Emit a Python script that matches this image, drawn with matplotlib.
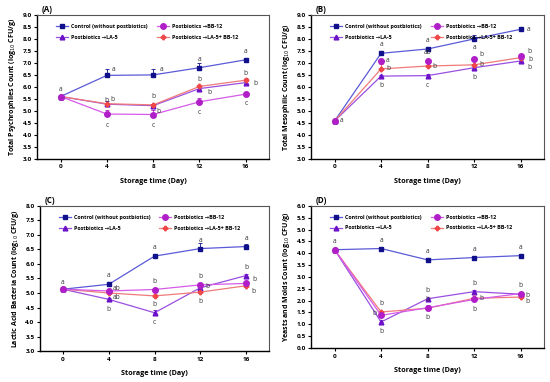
import matplotlib
matplotlib.use("Agg")
import matplotlib.pyplot as plt
import numpy as np

days = [0, 4, 8, 12, 16]
series_names = ["Control (without postbiotics)", "Postbiotics \u2192BB-12",
                "Postbiotics \u2192LA-5", "Postbiotics \u2192LA-5+ BB-12"]

# Panel A - psychrophiles
a_control = [5.60, 6.48, 6.50, 6.80, 7.13]
a_bb12 = [5.60, 4.87, 4.85, 5.38, 5.70]
a_la5 = [5.60, 5.28, 5.22, 5.93, 6.18]
a_mix = [5.60, 5.30, 5.25, 6.02, 6.28]
a_err = [[0.05, 0.25, 0.25, 0.20, 0.08], [0.05, 0.18, 0.20, 0.15, 0.08],
         [0.05, 0.15, 0.08, 0.10, 0.08], [0.05, 0.05, 0.05, 0.08, 0.08]]
a_letters = [["a", "a", "a", "a", "a"], ["", "c", "c", "c", "c"],
             ["", "b", "b", "b", "b"], ["", "b", "b", "b", "b"]]

# Panel B - mesophiles
b_control = [4.58, 7.40, 7.58, 8.00, 8.40]
b_bb12 = [4.58, 7.10, 7.08, 7.18, 7.30]
b_la5 = [4.58, 6.45, 6.47, 6.80, 7.08]
b_mix = [4.58, 6.75, 6.87, 6.92, 7.22]
b_err = [[0.05, 0.08, 0.05, 0.18, 0.05], [0.05, 0.05, 0.05, 0.05, 0.05],
         [0.05, 0.05, 0.08, 0.05, 0.05], [0.05, 0.20, 0.05, 0.05, 0.05]]
b_letters = [["a", "a", "a", "a", "a"], ["", "a", "ab", "b", "b"],
             ["", "b", "c", "b", "b"], ["", "b", "b", "b", "b"]]

# Panel C - lactic acid bacteria
c_control = [5.13, 5.30, 6.27, 6.53, 6.60]
c_bb12 = [5.13, 5.07, 5.12, 5.28, 5.33]
c_la5 = [5.13, 4.78, 4.32, 5.18, 5.60]
c_mix = [5.13, 5.00, 4.90, 5.03, 5.25]
c_err = [[0.08, 0.08, 0.05, 0.20, 0.10], [0.05, 0.05, 0.05, 0.05, 0.05],
         [0.05, 0.05, 0.10, 0.05, 0.05], [0.05, 0.05, 0.05, 0.05, 0.05]]
c_letters = [["a", "a", "a", "a", "a"], ["", "ab", "b", "b", "b"],
             ["", "b", "c", "b", "b"], ["", "ab", "b", "b", "b"]]

# Panel D - yeasts and molds
d_control = [4.15, 4.20, 3.72, 3.82, 3.90]
d_bb12 = [4.15, 1.38, 1.70, 2.05, 2.30]
d_la5 = [4.15, 1.10, 2.08, 2.38, 2.27]
d_mix = [4.15, 1.52, 1.68, 2.10, 2.15]
d_err = [[0.05, 0.05, 0.05, 0.05, 0.08], [0.05, 0.05, 0.10, 0.05, 0.05],
         [0.05, 0.10, 0.05, 0.08, 0.05], [0.05, 0.05, 0.05, 0.05, 0.05]]
d_letters = [["a", "a", "a", "a", "a"], ["", "b", "b", "b", "b"],
             ["", "b", "b", "b", "b"], ["", "b", "b", "b", "b"]]

ylabels = ["Total Psychrophiles Count (log$_{10}$ CFU/g)",
           "Total Mesophilic Count (log$_{10}$ CFU/g)",
           "Lactic Acid Bacteria Count (log$_{10}$ CFU/g)",
           "Yeasts and Molds Count (log$_{10}$ CFU/g)"]
panel_labels = ["(A)", "(B)", "(C)", "(D)"]

plt.rcParams['font.family'] = ['Open Sans', 'DejaVu Sans']

line_colors = ["#5a5ad8", "#d65ae8", "#9a4fe0", "#f07a7a"]
marker_colors = ["#10108a", "#b01ec8", "#6a10c8", "#f04848"]
markers = ["s", "o", "^", "P"]
msizes = [3.4, 4.0, 3.4, 3.2]

# letter offsets (points) per series/point
off_A = [[(0, 5), (5, 4), (6, 4), (0, 6), (0, 6)],
         [(0, 0), (0, -8), (0, -8), (0, -8), (0, -7)],
         [(5, 3), (0, 3), (4, -4), (7, -3), (7, -1)],
         [(5, -4), (4, 3), (0, 6), (0, 5), (0, 5)]]
off_B = [[(5, 0), (0, 6), (0, 6), (0, -6), (6, 0)],
         [(0, 0), (5, 0), (0, 6), (5, 3), (6, 3)],
         [(0, 0), (0, -7), (0, -7), (0, -7), (6, -5)],
         [(0, 0), (5, 0), (5, 0), (5, 0), (7, -1)]]
off_C = [[(0, 5), (0, 6), (0, 6), (0, 6), (0, 6)],
         [(0, 0), (6, 2), (0, 6), (0, 6), (6, 3)],
         [(0, 0), (0, -7), (0, -7), (5, 1), (0, 6)],
         [(0, 0), (6, -3), (0, -6), (0, -7), (5, -4)]]
off_D = [[(0, 6), (0, 6), (0, 6), (0, 6), (0, 6)],
         [(0, 0), (-5, 1), (0, -7), (0, -7), (0, 6)],
         [(0, 0), (0, -7), (0, 6), (0, 6), (5, -1)],
         [(0, 0), (0, 6), (0, 6), (5, 0), (5, -3)]]

panels = [
    ([a_control, a_bb12, a_la5, a_mix], a_err, a_letters, off_A, (3.0, 9.0), 0.5),
    ([b_control, b_bb12, b_la5, b_mix], b_err, b_letters, off_B, (3.0, 9.0), 0.5),
    ([c_control, c_bb12, c_la5, c_mix], c_err, c_letters, off_C, (3.0, 8.0), 0.5),
    ([d_control, d_bb12, d_la5, d_mix], d_err, d_letters, off_D, (0.0, 6.0), 0.5),
]
positions = [[0.068, 0.584, 0.421, 0.377], [0.566, 0.584, 0.423, 0.377],
             [0.073, 0.081, 0.416, 0.380], [0.566, 0.089, 0.423, 0.372]]

fig = plt.figure(figsize=(5.5, 3.82), dpi=100)

for p, (data, errs, letters, offs, ylim, step) in enumerate(panels):
    ax = fig.add_axes(positions[p])
    order = [0, 2, 3, 1]
    for i in order:
        ls = "-"
        if p == 1 and i == 1:
            ls = "none"
        ax.errorbar(days, data[i], yerr=[np.zeros(5), errs[i]], fmt="none",
                    ecolor=marker_colors[i], elinewidth=0.6, capsize=1.5,
                    capthick=0.6, zorder=2)
        ax.plot(days, data[i], linestyle=ls, color=line_colors[i], lw=0.9,
                marker=markers[i], markersize=msizes[i],
                markerfacecolor=marker_colors[i], markeredgecolor=marker_colors[i],
                zorder=3)
        for j in range(5):
            if letters[i][j]:
                ax.annotate(letters[i][j], (days[j], data[i][j]), xytext=offs[i][j],
                            textcoords="offset points", ha="center", va="center",
                            fontsize=4.8, color="#333333", zorder=4)
    leg_h = []
    for i in range(4):
        h, = ax.plot([], [], linestyle="-", color=line_colors[i], lw=0.9,
                     marker=markers[i], markersize=msizes[i],
                     markerfacecolor=marker_colors[i], markeredgecolor=marker_colors[i])
        leg_h.append(h)
    ax.legend([leg_h[0], leg_h[2], leg_h[1], leg_h[3]],
              [series_names[0], series_names[2], series_names[1], series_names[3]],
              ncol=2, loc="upper left", bbox_to_anchor=(0.06, 0.97), frameon=False,
              prop={'size': 3.9, 'weight': 'bold'}, handlelength=2.2,
              columnspacing=1.6, labelspacing=1.0, handletextpad=0.6)
    ax.set_xlim(-2, 18)
    ax.set_ylim(*ylim)
    ax.set_xticks(days)
    yt = np.arange(ylim[0], ylim[1] + 0.01, step)
    ax.set_yticks(yt)
    ax.set_yticklabels([f"{v:.1f}" for v in yt])
    for lab in ax.get_xticklabels() + ax.get_yticklabels():
        lab.set_fontweight("bold")
    ax.tick_params(labelsize=4.6, length=2.5, width=0.8, pad=1.5)
    ax.set_xlabel("Storage time (Day)", fontsize=5.2, fontweight="bold", labelpad=6)
    ax.set_ylabel(ylabels[p], fontsize=5.0, fontweight="bold", labelpad=3)
    for s in ["left", "bottom"]:
        ax.spines[s].set_linewidth(1.0)
        ax.spines[s].set_color("black")
    for s in ["top", "right"]:
        ax.spines[s].set_linewidth(0.8)
        ax.spines[s].set_color("#555555")
    ax.text(0.02, 1.005, panel_labels[p], transform=ax.transAxes, fontsize=5.8,
            fontweight="bold", ha="left", va="bottom")

fig.savefig("out.png", dpi=100)
